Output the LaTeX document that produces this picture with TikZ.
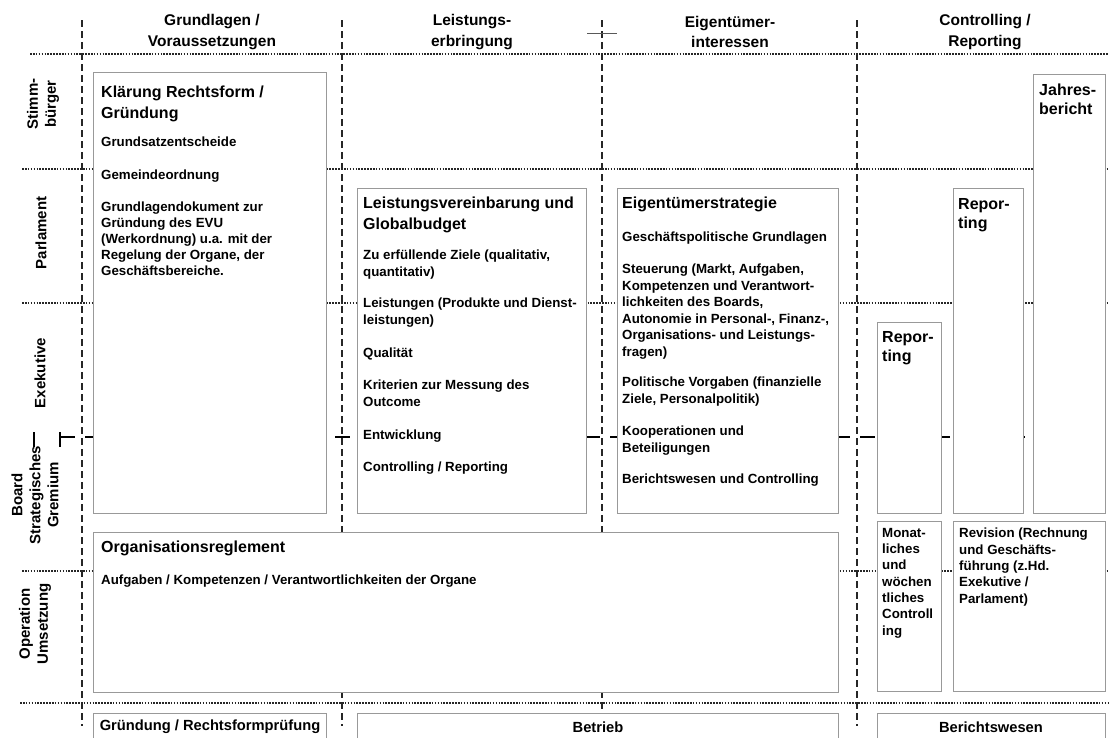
\documentclass[tikz,border=0pt]{standalone}
\usepackage{fontspec}
\setmainfont{Liberation Sans}
\definecolor{boxgray}{gray}{0.6}
\definecolor{linegray}{gray}{0.15}
\begin{document}
\begin{tikzpicture}[x=1pt,y=-1pt,
  frame/.style={draw=boxgray, line width=1.2pt, fill=white, inner sep=0pt, anchor=north west},
  vline/.style={draw=linegray, line width=1.3pt, dash pattern=on 7pt off 4pt},
  hline/.style={draw=linegray, line width=1.3pt, dash pattern=on 1.6pt off 1.3pt},
  tierline/.style={draw=black, line width=2.6pt, dash pattern=on 15pt off 10pt},
  small/.style={anchor=north west, inner sep=0pt, align=left, font=\fontsize{13.3}{16.5}\selectfont\bfseries},
  title/.style={anchor=north west, inner sep=0pt, align=left, font=\fontsize{16}{20.5}\selectfont\bfseries},
  head/.style={inner sep=0pt, align=center, font=\fontsize{15.5}{20.5}\selectfont\bfseries},
  rowlabel/.style={inner sep=0pt, align=center, rotate=90, font=\fontsize{15}{18}\selectfont\bfseries},
  phase/.style={inner sep=0pt, font=\fontsize{14.7}{17}\selectfont\bfseries},
]
\useasboundingbox (0,0) rectangle (1109,737);

% grid coordinates
\coordinate (hl0) at (30,54);   \coordinate (hr0) at (1109,54);
\coordinate (hl1) at (22,169);  \coordinate (hr1) at (1109,169);
\coordinate (hl2) at (22,303);  \coordinate (hr2) at (1109,303);
\coordinate (hl3) at (22,571);  \coordinate (hr3) at (1109,571);
\coordinate (hl4) at (20,703);  \coordinate (hr4) at (1109,703);
\coordinate (tl) at (60,437);   \coordinate (tr) at (1109,437);
\foreach \i/\x in {1/82,2/342,3/602,4/857}{
  \coordinate (vt\i) at (\x,20);
  \coordinate (vb\i) at (\x,726);
}

% dotted tier separators
\foreach \i in {0,...,4}{ \draw[hline] (hl\i) -- (hr\i); }
% heavy dashed separator between executive and board
\draw[tierline] (tl) -- (tr);
\coordinate (tka) at (34,432); \coordinate (tkb) at (34,447);
\coordinate (tkc) at (60,432); \coordinate (tkd) at (60,447);
\draw[black, line width=2.6pt] (tka) -- (tkb);
\draw[black, line width=2.6pt] (tkc) -- (tkd);
% dashed column separators
\foreach \i in {1,...,4}{ \draw[vline] (vt\i) -- (vb\i); }
\coordinate (tick1) at (587,33); \coordinate (tick2) at (617,33);
\draw[gray!70!black, line width=0.9pt] (tick1) -- (tick2);

% column headers
\node[head] (c1) at (212,32) {Grundlagen /\\Voraussetzungen};
\node[head] (c2) at (472,32) {Leistungs-\\erbringung};
\node[head] (c3) at (730,32) {Eigentümer-\\interessen};
\node[head] (c4) at (985,32) {Controlling /\\Reporting};

% row labels
\node[rowlabel] (r1) at (43,104) {Stimm-\\bürger};
\node[rowlabel] (r2) at (41,233) {Parlament};
\node[rowlabel] (r3) at (40,373) {Exekutive};
\node[rowlabel] (r4) at (35,495) {Board\\Strategisches\\Gremium};
\node[rowlabel] (r5) at (35,624) {Operation\\Umsetzung};

% boxes
\node[frame, minimum width=233pt, minimum height=441pt] (b1) at (93,72) {};
\node[frame, minimum width=229pt, minimum height=325pt] (b2) at (357,188) {};
\node[frame, minimum width=221pt, minimum height=325pt] (b3) at (617,188) {};
\node[frame, minimum width=64pt,  minimum height=191pt] (b4) at (877,322) {};
\node[frame, minimum width=70pt,  minimum height=325pt] (b5) at (953,188) {};
\node[frame, minimum width=72pt,  minimum height=439pt] (b6) at (1033,74) {};
\node[frame, minimum width=745pt, minimum height=160pt] (b7) at (93,532) {};
\node[frame, minimum width=64pt,  minimum height=170pt] (b8) at (877,521) {};
\node[frame, minimum width=152pt, minimum height=170pt] (b9) at (953,521) {};
\node[frame, minimum width=233pt, minimum height=40pt] (p1) at (93,713) {};
\node[frame, minimum width=481pt, minimum height=40pt] (p2) at (357,713) {};
\node[frame, minimum width=228pt, minimum height=40pt] (p3) at (877,713) {};

% box 1
\node[title, font=\fontsize{16}{21}\selectfont\bfseries] (t1) at (101,86) {Klärung Rechtsform /\\Gründung};
\node[small] (t1a) at (101,137) {Grundsatzentscheide};
\node[small] (t1b) at (101,170) {Gemeindeordnung};
\node[small, font=\fontsize{13.3}{16}\selectfont\bfseries] (t1c) at (101,202) {Grundlagendokument zur\\Gründung des EVU\\(Werkordnung) u.a. mit der\\Regelung der Organe, der\\Geschäftsbereiche.};

% box 2
\node[title] (t2) at (363,197) {Leistungsvereinbarung und\\Globalbudget};
\node[small] (t2a) at (363,250) {Zu erfüllende Ziele (qualitativ,\\quantitativ)};
\node[small] (t2b) at (363,298) {Leistungen (Produkte und Dienst-\\leistungen)};
\node[small] (t2c) at (363,348) {Qualität};
\node[small] (t2d) at (363,380) {Kriterien zur Messung des\\Outcome};
\node[small] (t2e) at (363,430) {Entwicklung};
\node[small] (t2f) at (363,462) {Controlling / Reporting};

% box 3
\node[title] (t3) at (622,197) {Eigentümerstrategie};
\node[small] (t3a) at (622,232) {Geschäftspolitische Grundlagen};
\node[small] (t3b) at (622,264) {Steuerung (Markt, Aufgaben,\\Kompetenzen und Verantwort-\\lichkeiten des Boards,\\Autonomie in Personal-, Finanz-,\\Organisations- und Leistungs-\\fragen)};
\node[small] (t3c) at (622,377) {Politische Vorgaben (finanzielle\\Ziele, Personalpolitik)};
\node[small] (t3d) at (622,426) {Kooperationen und\\Beteiligungen};
\node[small] (t3e) at (622,474) {Berichtswesen und Controlling};

% controlling column
\node[title, font=\fontsize{16}{19}\selectfont\bfseries] (t4) at (882,331) {Repor-\\ting};
\node[title, font=\fontsize{16}{19}\selectfont\bfseries] (t5) at (958,198) {Repor-\\ting};
\node[title, font=\fontsize{16}{18.5}\selectfont\bfseries] (t6) at (1039,84) {Jahres-\\bericht};

% organisation regulations
\node[title] (t7) at (101,541) {Organisationsreglement};
\node[small] (t7a) at (101,575) {Aufgaben / Kompetenzen / Verantwortlichkeiten der Organe};

\node[small, font=\fontsize{13.3}{16.3}\selectfont\bfseries] (t8) at (882,528) {Monat-\\liches\\und\\wöchen\\tliches\\Controll\\ing};
\node[small, font=\fontsize{13.3}{16.3}\selectfont\bfseries] (t9) at (959,528) {Revision (Rechnung\\und Geschäfts-\\führung (z.Hd.\\Exekutive /\\Parlament)};

% phases
\node[phase] (q1) at (210,727) {Gründung / Rechtsformprüfung};
\node[phase] (q2) at (598,727) {Betrieb};
\node[phase] (q3) at (991,727) {Berichtswesen};
\end{tikzpicture}
\end{document}
